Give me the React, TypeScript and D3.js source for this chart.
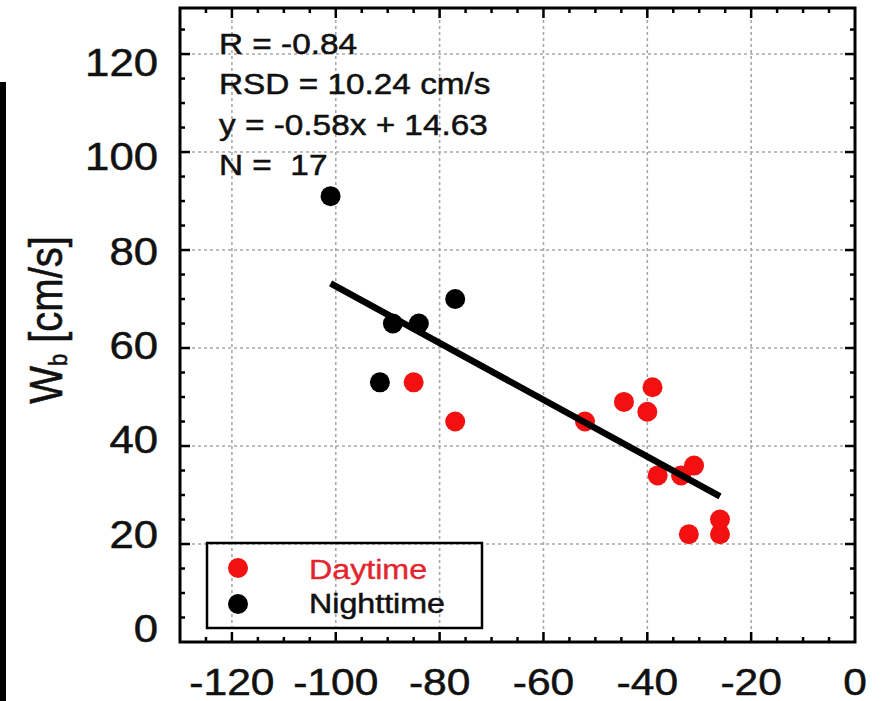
import React from "react";
import * as d3 from "d3";

// ---- data ----
const nightX = [-101, -89, -84, -77, -91.5];
const nightY = [91, 65, 65, 70, 53];
const dayX = [-85, -77, -52, -44.5, -40, -39, -38, -33.5, -31, -32, -26, -26];
const dayY = [53, 45, 45, 49, 47, 52, 34, 34, 36, 22, 25, 22];
const xTicks = [-120, -100, -80, -60, -40, -20, 0];
const yTicks = [0, 20, 40, 60, 80, 100, 120];
const statsLines = ["R = -0.84", "RSD = 10.24 cm/s", "y = -0.58x + 14.63", "N =  17"];
const slope = -0.58;
const intercept = 14.63;
const legendLabels = ["Daytime", "Nighttime"];

const W = 883;
const H = 701;
const SX = 1.15; // horizontal stretch of the original raster text
const FONT = "'Liberation Sans', Arial, Helvetica, sans-serif";

export default function App() {
  const L = 180, R = 855, T = 8, B = 642;
  const x = d3.scaleLinear().domain([-130, 0]).range([L, R]);
  const y = d3.scaleLinear().domain([0, 129.4]).range([B, T]);
  const yLab = d3.scaleLinear().domain([0, 120]).range([629, 63]);

  const minorX = d3.range(-125, 0, 5);
  const minorY = d3.range(5, 130, 5);

  const allX = nightX.concat(dayX);
  const x0 = d3.min(allX) as number;
  const x1 = d3.max(allX) as number;
  const line = d3.line<number>().x((v) => x(v)).y((v) => y(slope * v + intercept));

  const red = "#f21010";
  const gridProps = { stroke: "#a8a8a8", strokeWidth: 1.6, strokeDasharray: "3,3" };
  const txtStroke = { stroke: "#111", strokeWidth: 0.5 };

  return (
    <svg width={W} height={H} style={{ position: "absolute", left: 0, top: 0, background: "#fff" }} fontFamily={FONT}>
      <rect x={0} y={0} width={W} height={H} fill="#fff" />
      <rect x={0} y={82} width={6} height={H - 82} fill="#000" />

      {/* grid */}
      {xTicks.filter((t) => t > -130 && t < 0).map((t) => (
        <line key={"gx" + t} x1={x(t)} x2={x(t)} y1={T} y2={B} {...gridProps} />
      ))}
      {yTicks.filter((t) => t > 0).map((t) => (
        <line key={"gy" + t} x1={L} x2={R} y1={y(t)} y2={y(t)} {...gridProps} />
      ))}

      {/* ticks on all sides */}
      {minorX.map((t) => {
        const major = t % 20 === 0;
        const len = major ? 10 : 5;
        return (
          <g key={"tx" + t} stroke="#000" strokeWidth={2.5}>
            <line x1={x(t)} x2={x(t)} y1={B} y2={B - len} />
            <line x1={x(t)} x2={x(t)} y1={T} y2={T + len} />
          </g>
        );
      })}
      {minorY.map((t) => {
        const major = t % 20 === 0;
        const len = major ? 10 : 5;
        return (
          <g key={"ty" + t} stroke="#000" strokeWidth={2.5}>
            <line x1={L} x2={L + len} y1={y(t)} y2={y(t)} />
            <line x1={R} x2={R - len} y1={y(t)} y2={y(t)} />
          </g>
        );
      })}

      {/* points */}
      {nightX.map((v, i) => (
        <circle key={"n" + i} cx={x(v)} cy={y(nightY[i])} r={10} fill="#000" />
      ))}
      {dayX.map((v, i) => (
        <circle key={"d" + i} cx={x(v)} cy={y(dayY[i])} r={10} fill={red} />
      ))}

      {/* regression line */}
      <path d={line([x0, x1]) || ""} stroke="#000" strokeWidth={6.5} fill="none" />

      {/* frame */}
      <rect x={L} y={T} width={R - L} height={B - T} fill="none" stroke="#000" strokeWidth={3} />

      {/* stats text */}
      {statsLines.map((s, i) => (
        <text key={"s" + i} transform={`translate(219,${54 + i * 40.3}) scale(${SX},1)`} fontSize={29} fill="#111" {...txtStroke} style={{ whiteSpace: "pre" }}>
          {s}
        </text>
      ))}

      {/* legend */}
      <rect x={207} y={543} width={275} height={85} fill="none" stroke="#000" strokeWidth={2.5} />
      <circle cx={238} cy={568} r={10} fill={red} />
      <circle cx={238} cy={604} r={10} fill="#000" />
      <text transform={`translate(309,579) scale(${SX},1)`} fontSize={28} fill="#e3262e" stroke="#e3262e" strokeWidth={0.4}>{legendLabels[0]}</text>
      <text transform={`translate(309,613) scale(${SX},1)`} fontSize={28} fill="#111" {...txtStroke}>{legendLabels[1]}</text>

      {/* y tick labels */}
      {yTicks.map((t) => (
        <text key={"yl" + t} transform={`translate(158,${yLab(t)}) scale(${SX},1)`} fontSize={38} textAnchor="end" dominantBaseline="central" fill="#111" {...txtStroke}>
          {t}
        </text>
      ))}
      {/* x tick labels */}
      {xTicks.map((t) => (
        <text key={"xl" + t} transform={`translate(${x(t)},695) scale(${SX},1)`} fontSize={37} textAnchor="middle" fill="#111" {...txtStroke}>
          {t}
        </text>
      ))}

      {/* y axis label */}
      <text transform={`translate(62,320) scale(${SX},1) rotate(-90)`} fontSize={40} textAnchor="middle" fill="#111" {...txtStroke}>
        W<tspan fontSize={22} dy={4}>b</tspan><tspan dy={-4}> [cm/s]</tspan>
      </text>
    </svg>
  );
}
